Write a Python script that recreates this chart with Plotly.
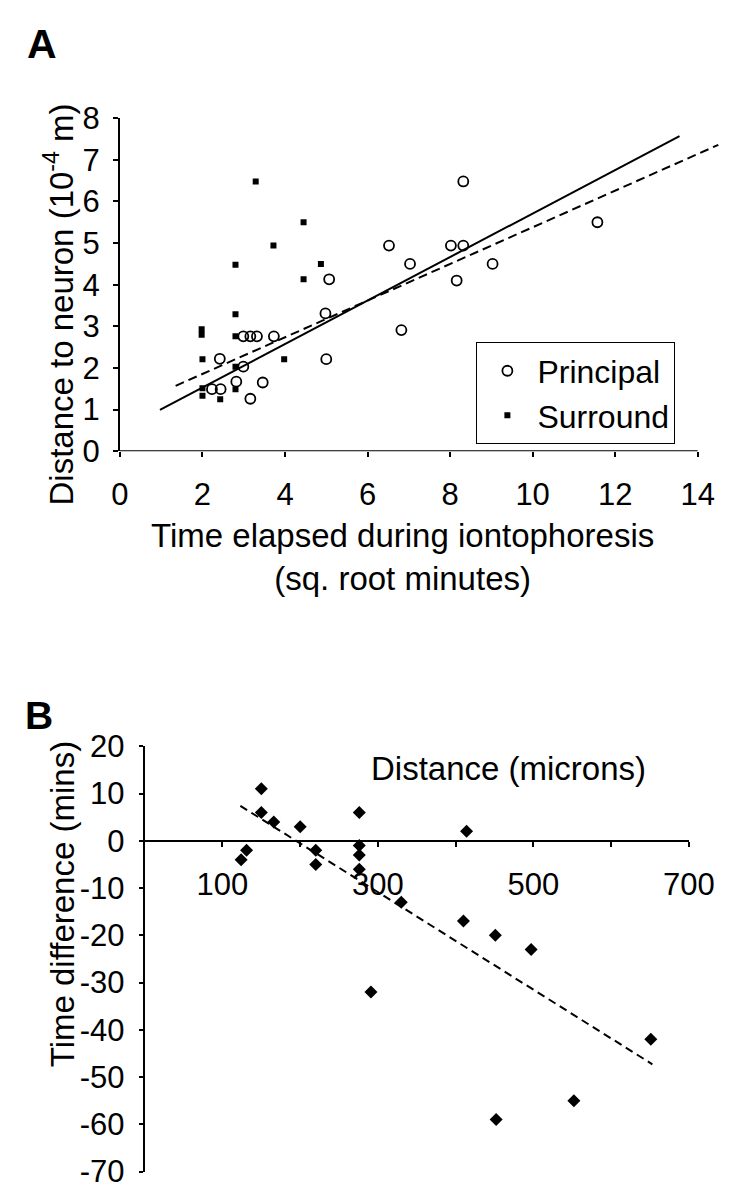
import plotly.graph_objects as go

W, H = 746, 1199

# ---------------- Panel A data ----------------
principal_x = [2.42, 2.23, 2.44, 2.82, 2.99, 3.16, 2.99, 3.16, 3.32, 3.46, 3.73,
               5.07, 4.98, 5.00, 6.52, 7.03, 6.82, 8.02, 8.32, 8.32, 8.16, 9.03, 11.57]
principal_y = [2.22, 1.49, 1.49, 1.67, 2.03, 1.26, 2.76, 2.76, 2.76, 1.65, 2.76,
               4.13, 3.31, 2.21, 4.94, 4.50, 2.91, 4.94, 4.94, 6.48, 4.10, 4.50, 5.50]

surround_x = [1.98, 1.98, 2.00, 2.00, 2.00, 2.43, 2.80, 2.80, 2.80, 2.80, 2.80,
              3.29, 3.72, 3.98, 4.45, 4.45, 4.87]
surround_y = [2.93, 2.80, 2.21, 1.51, 1.33, 1.25, 4.48, 3.29, 2.76, 2.03, 1.49,
              6.48, 4.94, 2.21, 5.50, 4.13, 4.50]

# regression lines (end points)
fit_solid_x = [0.97, 13.56]
fit_solid_y = [0.99, 7.57]
fit_dash_x = [1.35, 14.5]
fit_dash_y = [1.57, 7.36]

a_xticks = [0, 2, 4, 6, 8, 10, 12, 14]
a_yticks = [0, 1, 2, 3, 4, 5, 6, 7, 8]

# ---------------- Panel B data ----------------
dist_x = [124, 131, 150, 150, 166, 200, 220, 220, 276, 276, 276, 276,
          291, 330, 410, 414, 451, 452, 497, 552, 651]
timediff_y = [-4, -2, 11, 6, 4, 3, -2, -5, 6, -1, -3, -6,
              -32, -13, -17, 2, -20, -59, -23, -55, -42]

fit_b_x = [123, 653]
fit_b_y = [7.4, -47.3]

b_xticks = [100, 300, 500, 700]
b_xminor = [200, 400, 600]
b_yticks = [20, 10, 0, -10, -20, -30, -40, -50, -60, -70]
b_yticktext = [str(v) for v in b_yticks]

FONT = "Arial, Liberation Sans, sans-serif"
BLACK = "black"

fig = go.Figure()

fig.add_trace(go.Scatter(x=fit_solid_x, y=fit_solid_y, mode="lines",
                         line=dict(color=BLACK, width=2), showlegend=False,
                         xaxis="x", yaxis="y"))
fig.add_trace(go.Scatter(x=fit_dash_x, y=fit_dash_y, mode="lines",
                         line=dict(color=BLACK, width=2, dash="9px,5px"),
                         showlegend=False, xaxis="x", yaxis="y"))
fig.add_trace(go.Scatter(x=principal_x, y=principal_y, mode="markers", name="Principal",
                         marker=dict(symbol="circle-open", size=10, color=BLACK,
                                     line=dict(width=1.8, color=BLACK)),
                         xaxis="x", yaxis="y"))
fig.add_trace(go.Scatter(x=surround_x, y=surround_y, mode="markers", name="Surround",
                         marker=dict(symbol="square", size=6, color=BLACK),
                         xaxis="x", yaxis="y"))

fig.add_trace(go.Scatter(x=fit_b_x, y=fit_b_y, mode="lines",
                         line=dict(color=BLACK, width=2, dash="8px,5px"),
                         showlegend=False, xaxis="x2", yaxis="y2"))
fig.add_trace(go.Scatter(x=dist_x, y=timediff_y, mode="markers", showlegend=False,
                         marker=dict(symbol="diamond", size=10, color=BLACK),
                         xaxis="x2", yaxis="y2"))

# domains (pixel based)
a_xdom = [108 / W, 738 / W]
a_ydom = [1 - 439 / H, 1 - 96 / H]
b_xdom = [134 / W, 705 / W]
b_ydom = [1 - 1181 / H, 1 - 743 / H]
b_yrange = [-70, 20]
b_xpos = b_ydom[0] + (b_ydom[1] - b_ydom[0]) * (0 - b_yrange[0]) / (b_yrange[1] - b_yrange[0])

axcommon = dict(showgrid=False, zeroline=False, color=BLACK, ticks="outside",
                tickwidth=2, tickcolor=BLACK, linecolor=BLACK, linewidth=2,
                tickfont=dict(family=FONT, size=31, color=BLACK))

fig.update_layout(
    width=W, height=H, autosize=False,
    margin=dict(l=0, r=0, t=0, b=0),
    paper_bgcolor="white", plot_bgcolor="white",
    font=dict(family=FONT, color=BLACK),
    xaxis=dict(domain=a_xdom, range=[0, 14.55], tickvals=a_xticks, showline=False,
               ticklen=5, anchor="y", ticklabelstandoff=11, **axcommon),
    yaxis=dict(domain=a_ydom, range=[0, 8], tickvals=a_yticks, showline=True,
               ticklen=5, anchor="x", ticklabelstandoff=7, **axcommon),
    xaxis2=dict(domain=b_xdom, range=[0, 700], tickvals=b_xticks,
                showline=True, ticklen=5, anchor="free", position=b_xpos,
                ticklabelstandoff=11,
                minor=dict(tickmode="array", tickvals=b_xminor, ticks="outside",
                           ticklen=5, tickwidth=2, tickcolor=BLACK),
                **axcommon),
    yaxis2=dict(domain=b_ydom, range=b_yrange, tickvals=b_yticks, ticktext=b_yticktext,
                showline=True, ticklen=4, anchor="x2", ticklabelstandoff=8, **axcommon),
    legend=dict(x=482 / W, y=1 - 327 / H, xanchor="left", yanchor="top",
                bordercolor=BLACK, borderwidth=1, bgcolor="white",
                font=dict(family=FONT, size=32, color=BLACK),
                itemwidth=50, tracegroupgap=0,
                entrywidth=155, entrywidthmode="pixels"),
    shapes=[dict(type="line", xref="x", yref="y", x0=0, x1=14, y0=0, y1=0,
                 line=dict(color=BLACK, width=2))],
)

annots = [
    dict(text="<b>A</b>", x=8 / W, y=1 - 20 / H, xanchor="left", yanchor="middle",
         font=dict(size=41, family=FONT)),
    dict(text="<b>B</b>", x=6 / W, y=1 - 711 / H, xanchor="left", yanchor="middle",
         font=dict(size=39, family=FONT)),
    dict(text="Time elapsed during iontophoresis<br>(sq. root minutes)",
         x=405 / W, y=1 - 548 / H, xanchor="center", yanchor="middle",
         font=dict(size=33, family=FONT)),
    dict(text="Distance to neuron (10<sup>-4</sup> m)", textangle=-90,
         x=44 / W, y=1 - 288 / H, xanchor="center", yanchor="middle",
         font=dict(size=33, family=FONT)),
    dict(text="Time difference (mins)", textangle=-90,
         x=48 / W, y=1 - 906 / H, xanchor="center", yanchor="middle",
         font=dict(size=33, family=FONT)),
    dict(text="Distance (microns)", x=516 / W, y=1 - 766 / H,
         xanchor="center", yanchor="middle", font=dict(size=33, family=FONT)),
]
for a in annots:
    a.update(xref="paper", yref="paper", showarrow=False)
fig.update_layout(annotations=annots)

fig.write_html("out.html")
